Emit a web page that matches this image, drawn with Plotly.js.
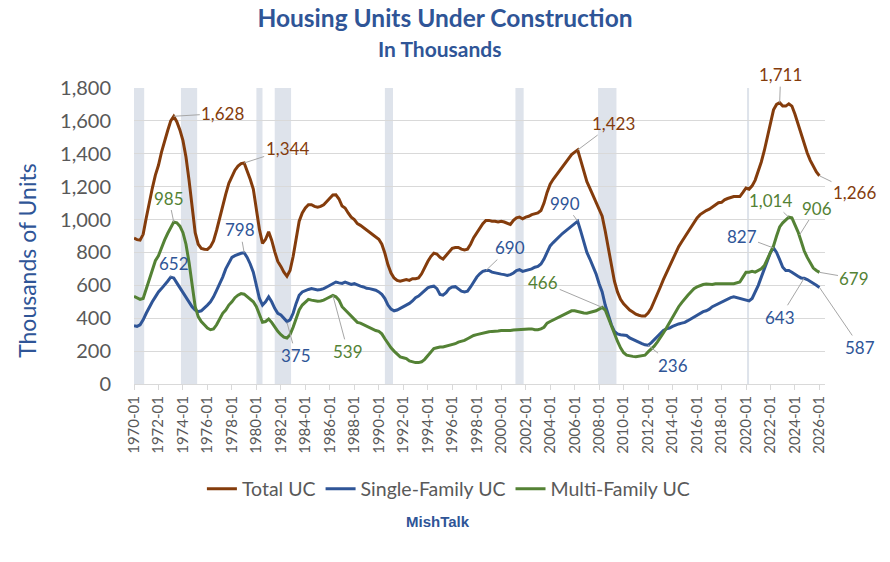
<!DOCTYPE html>
<html>
<head>
<meta charset="utf-8">
<script src="https://cdn.plot.ly/plotly-3.0.1.min.js"></script>
<style>html,body{margin:0;padding:0;background:#fff;}#chart{width:890px;height:562px;}</style>
</head>
<body>
<div id="chart"></div>
<script>
// Quarterly observations (Jan, Apr, Jul, Oct) starting 1970-01, thousands of units
const startYear = 1970;

const totalUC = [
  888, 878, 875, 910,     // 1970
  1010, 1110, 1190, 1270, // 1971
  1330, 1410, 1480, 1540, // 1972
  1600, 1628, 1595, 1545, // 1973
  1480, 1380, 1240, 1075, // 1974
  920, 850, 825, 820,     // 1975
  818, 835, 870, 935,     // 1976
  1015, 1085, 1155, 1220, // 1977
  1265, 1300, 1325, 1340, // 1978
  1344, 1300, 1245, 1185, // 1979
  1070, 940, 855, 880,    // 1980
  925, 875, 805, 745,     // 1981
  715, 680, 655, 690,     // 1982
  775, 890, 990, 1040,    // 1983
  1070, 1090, 1090, 1080, // 1984
  1075, 1080, 1090, 1110, // 1985
  1130, 1149, 1150, 1125, // 1986
  1082, 1070, 1040, 1015, // 1987
  1000, 975, 965, 950,    // 1988
  937, 925, 910, 895,     // 1989
  880, 850, 795, 725,     // 1990
  675, 645, 630, 625,     // 1991
  630, 635, 630, 640,     // 1992
  640, 645, 670, 710,     // 1993
  745, 775, 795, 790,     // 1994
  770, 760, 780, 805,     // 1995
  825, 830, 830, 820,     // 1996
  815, 820, 850, 890,     // 1997
  920, 950, 975, 995,     // 1998
  995, 990, 990, 985,     // 1999
  990, 985, 975, 970,     // 2000
  995, 1010, 1015, 1005,  // 2001
  1015, 1020, 1030, 1035, // 2002
  1040, 1055, 1100, 1165, // 2003
  1215, 1245, 1270, 1300, // 2004
  1320, 1345, 1370, 1395, // 2005
  1410, 1423, 1360, 1295, // 2006
  1230, 1190, 1150, 1110, // 2007
  1060, 1020, 930, 820,   // 2008
  710, 625, 560, 515,     // 2009
  488, 468, 450, 438,     // 2010
  425, 418, 413, 413,     // 2011
  432, 460, 500, 540,     // 2012
  590, 635, 675, 715,     // 2013
  755, 800, 835, 865,     // 2014
  895, 925, 955, 985,     // 2015
  1010, 1030, 1045, 1055, // 2016
  1063, 1075, 1090, 1102, // 2017
  1105, 1120, 1128, 1135, // 2018
  1140, 1140, 1140, 1165, // 2019
  1192, 1185, 1205, 1240, // 2020
  1290, 1350, 1420, 1510, // 2021
  1600, 1667, 1700, 1711, // 2022
  1690, 1690, 1704, 1690, // 2023
  1640, 1580, 1515, 1453, // 2024
  1405, 1360, 1320, 1290, // 2025
  1266                    // 2026
];

const singleUC = [
  355, 350, 360, 390,
  430, 470, 500, 530,
  560, 580, 600, 625,
  650, 645, 615, 585,
  560, 530, 495, 470,
  450, 440, 445, 460,
  480, 500, 530, 570,
  610, 650, 700, 740,
  770, 780, 790, 795,
  798, 770, 730, 680,
  600, 520, 480, 500,
  530, 500, 460, 430,
  420, 400, 380, 390,
  430, 490, 540, 560,
  570, 575, 580, 575,
  572, 575, 580, 590,
  600, 610, 620, 615,
  612, 620, 610, 605,
  610, 600, 595, 590,
  582, 580, 575, 570,
  560, 545, 520, 480,
  455, 445, 450, 460,
  470, 480, 490, 505,
  525, 535, 550, 570,
  585, 592, 595, 580,
  545, 540, 555, 580,
  590, 592, 580, 565,
  560, 565, 590, 620,
  650, 670, 685, 690,
  690, 680, 675, 670,
  668, 665, 660, 665,
  675, 690, 695, 685,
  690, 695, 700, 710,
  715, 730, 760, 800,
  840, 860, 880, 900,
  915, 930, 945, 960,
  975, 990, 930, 865,
  800, 760, 720, 670,
  610, 560, 480, 420,
  360, 320, 305, 300,
  298, 295, 280, 270,
  260, 250, 245, 238,
  236, 250, 270, 290,
  310, 325, 335, 340,
  350, 360, 365, 370,
  375, 385, 395, 405,
  420, 430, 440, 445,
  455, 470, 480, 490,
  495, 510, 520, 525,
  530, 525, 520, 515,
  512, 505, 520, 560,
  600, 650, 700, 750,
  800, 827, 800, 756,
  710, 690, 690, 680,
  670, 655, 645, 643,
  635, 625, 615, 600,
  587
];

const multiUC = [
  533, 525, 515, 520,
  580, 640, 700, 750,
  780, 830, 875, 915,
  950, 985, 980, 960,
  920, 850, 740, 600,
  470, 410, 380, 360,
  340, 330, 335, 360,
  400, 430, 450, 480,
  500, 525, 540, 550,
  546, 530, 515, 500,
  470, 420, 375, 380,
  395, 375, 345, 320,
  300, 285, 280, 300,
  345, 400, 450, 480,
  500, 515, 510, 505,
  503, 505, 510, 520,
  530, 539, 530, 510,
  470, 450, 430, 410,
  390, 375, 370, 360,
  355, 345, 335, 325,
  320, 305, 275, 245,
  220, 200, 180, 165,
  160, 155, 140, 135,
  130, 130, 135, 150,
  170, 195, 215, 220,
  225, 225, 230, 235,
  240, 245, 255, 260,
  265, 275, 285, 295,
  300, 305, 310, 315,
  318, 320, 320, 322,
  325, 325, 323, 325,
  328, 330, 330, 330,
  335, 335, 335, 330,
  330, 335, 345, 370,
  380, 390, 400, 410,
  420, 430, 440, 445,
  445, 440, 435, 432,
  430, 435, 440, 445,
  455, 466, 450, 400,
  350, 300, 260, 220,
  190, 175, 170, 168,
  166, 168, 170, 175,
  195, 210, 230, 255,
  280, 310, 340, 375,
  405, 440, 470, 495,
  520, 540, 560, 580,
  590, 600, 605, 608,
  608, 605, 610, 612,
  610, 610, 608, 610,
  610, 615, 620, 650,
  680, 680, 685, 680,
  690, 700, 720, 760,
  800, 840, 900, 955,
  980, 1000, 1014, 1010,
  970, 925, 870, 810,
  770, 735, 705, 690,
  679
];

// NBER recessions (start, end)
const recessionStarts = ['1969-12-01','1973-11-01','1980-01-01','1981-07-01','1990-07-01','2001-03-01','2007-12-01','2020-02-01'];
const recessionEnds   = ['1970-11-01','1975-03-01','1980-07-01','1982-11-01','1991-03-01','2001-11-01','2009-06-01','2020-04-01'];

// Labelled values: series, date, value
const labelSeries = ['total','total','multi','single','single','single','multi','single','single','total','multi','total','total','multi','multi','single','multi','single','single','single'];
const labelDates  = ['1973-04-01','1979-01-01','1973-04-01','1973-01-01','1979-01-01','1982-07-01','1986-04-01','1998-10-01','2006-04-01','2006-04-01','2008-04-01','2022-10-01','2026-01-01','2023-07-01','2024-05-15','2022-04-01','2026-01-01','2024-10-01','2026-01-01','2012-01-01'];
const labelValues = [1628, 1344, 985, 652, 798, 375, 539, 690, 990, 1423, 466, 1711, 1266, 1014, 906, 827, 679, 643, 587, 236];

const dates = [];
for (let i = 0; i < totalUC.length; i++) {
  const y = startYear + Math.floor(i / 4);
  const m = (i % 4) * 3 + 1;
  dates.push(y + '-' + String(m).padStart(2, '0') + '-01');
}

const colors = { total: '#843C0C', single: '#2F5597', multi: '#548235' };
const lineW = 3;

const traces = [
  { x: dates, y: totalUC, name: 'Total UC', type: 'scatter', mode: 'lines', line: { color: colors.total, width: lineW } },
  { x: dates, y: singleUC, name: 'Single-Family UC', type: 'scatter', mode: 'lines', line: { color: colors.single, width: lineW } },
  { x: dates, y: multiUC, name: 'Multi-Family UC', type: 'scatter', mode: 'lines', line: { color: colors.multi, width: lineW } }
];

const shapes = recessionStarts.map((s, i) => ({
  type: 'rect', xref: 'x', yref: 'paper', x0: s, x1: recessionEnds[i], y0: 0, y1: 1,
  fillcolor: '#dee3eb', line: { width: 0 }, layer: 'below'
}));

// pixel offsets of label text relative to the labelled point
const offsets = [[49,-3],[43,-14],[-5,-24],[3,-13],[-4,-23],[9,33],[15,56],[24,-23],[-13,-18],[36,-27],[-59,-25],[1,-28],[35,17],[-18,-17],[17,-27],[-32,-12],[35,6],[-24,39],[41,60],[25,20]];

const annotations = labelValues.map((v, i) => ({
  x: labelDates[i], y: v, xref: 'x', yref: 'y',
  text: v.toLocaleString('en-US'),
  showarrow: true, arrowhead: 0, arrowwidth: 1, arrowcolor: '#a6a6a6', standoff: 0,
  ax: offsets[i][0], ay: offsets[i][1],
  font: { family: 'Lato, sans-serif', size: 17, color: colors[labelSeries[i]] }
}));

annotations.push({
  xref: 'paper', yref: 'paper', x: 0.4425, y: 1, yanchor: 'middle', yshift: 40,
  showarrow: false, text: '<b>In Thousands</b>',
  font: { family: 'Lato, sans-serif', size: 21, color: '#2F5597' }
});
annotations.push({
  xref: 'paper', yref: 'paper', x: 0.44, y: -0.466, yanchor: 'middle', showarrow: false,
  text: '<b>MishTalk</b>',
  font: { family: 'Liberation Sans, Arial, sans-serif', size: 15, color: '#2F5597' }
});
annotations.push({
  xref: 'paper', yref: 'paper', x: -0.155, y: 0.419, xanchor: 'center', yanchor: 'middle',
  showarrow: false, textangle: -90, text: 'Thousands of Units',
  font: { family: 'Lato, sans-serif', size: 23, color: '#2F5597' }
});

const layout = {
  width: 890, height: 562,
  margin: { l: 134, r: 65, t: 88, b: 178 },
  paper_bgcolor: '#fff', plot_bgcolor: '#fff',
  title: { text: '<b>Housing Units Under Construction</b>', x: 0.5, xanchor: 'center', y: 0.968, yanchor: 'middle',
           font: { family: 'Lato, sans-serif', size: 24.5, color: '#2F5597' } },
  xaxis: {
    type: 'date', range: ['1970-01-01', '2026-06-15'],
    tick0: '1970-01-01', dtick: 'M24', tickformat: '%Y-%m', tickangle: -90,
    tickfont: { family: 'Lato, sans-serif', size: 15, color: '#595959' },
    showgrid: false, showline: true, linecolor: '#d9d9d9', linewidth: 1,
    ticks: 'outside', ticklen: 5, tickcolor: '#d9d9d9', zeroline: false, fixedrange: true
  },
  yaxis: {
    range: [0, 1800], dtick: 200, tickformat: ',d',
    tickfont: { family: 'Lato, sans-serif', size: 20, color: '#595959' },
    gridcolor: '#d9d9d9', gridwidth: 1, zeroline: false, showline: false,
    ticks: '', ticklabelstandoff: 22,
    fixedrange: true
  },
  legend: {
    orientation: 'h', x: 0.455, xanchor: 'center', y: -0.355, yanchor: 'middle',
    font: { family: 'Lato, sans-serif', size: 19.5, color: '#595959' },
    itemwidth: 30, tracegroupgap: 0
  },
  shapes: shapes,
  annotations: annotations
};

Plotly.newPlot('chart', traces, layout, { displayModeBar: false, staticPlot: true });
</script>
</body>
</html>
